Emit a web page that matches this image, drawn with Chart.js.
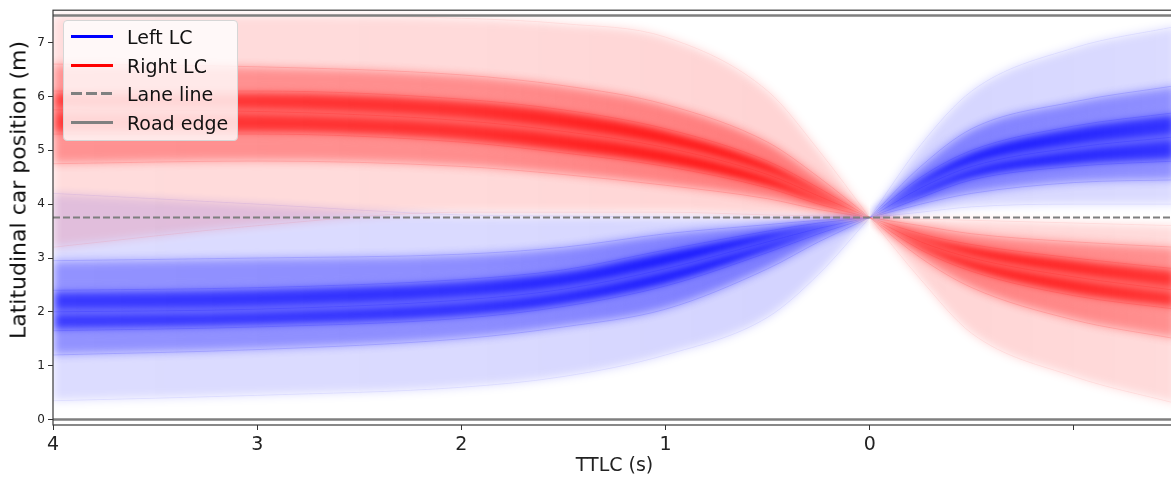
<!DOCTYPE html>
<html>
<head>
<meta charset="utf-8">
<script src="https://cdn.jsdelivr.net/npm/chart.js@4"></script>
<style>
    html, body { margin: 0; padding: 0; background: #fff; overflow: hidden; width: 1171px; height: 480px; }
    #wrap { position: relative; width: 1180px; height: 480px; }
    #ylabel {
        position: absolute; left: 18px; top: 190px;
        transform: translate(-50%, -50%) rotate(-90deg);
        white-space: nowrap; font: 22px 'DejaVu Sans', sans-serif; color: #111;
    }
    .legend {
        position: absolute; left: 63px; top: 20px; width: 173px; height: 119px;
        border: 1px solid #d6d6d6; border-radius: 4px; background: rgba(255,255,255,0.8);
        font: 19px 'DejaVu Sans', sans-serif; color: #111;
    }
    .legend .row { position: absolute; left: 0; height: 24px; line-height: 24px; }
    .legend .swatch { position: absolute; left: 7px; top: 10px; width: 42px; height: 3px; }
    .legend .label { position: absolute; left: 63px; top: 0; white-space: nowrap; }
</style>
</head>
<body>
<div id="wrap">
    <canvas id="chart"></canvas>
    <div id="ylabel">Latitudinal car position (m)</div>
    <div class="legend">
        <div class="row" style="top:4px"><div class="swatch" style="background:#0000ff"></div><span class="label">Left LC</span></div>
        <div class="row" style="top:33px"><div class="swatch" style="background:#ff0000"></div><span class="label">Right LC</span></div>
        <div class="row" style="top:61px"><div class="swatch" style="background:repeating-linear-gradient(to right,#808080 0 11px,transparent 11px 15px)"></div><span class="label">Lane line</span></div>
        <div class="row" style="top:90px"><div class="swatch" style="background:#808080"></div><span class="label">Road edge</span></div>
    </div>
</div>
<script>
// time to lane change (s); index 7 is the crossing point
const TTLC = [4, 3, 2, 1.5, 1, 0.5, 0.25, 0, -0.25, -0.5, -1, -1.5];

const LEFT_P02 = [0.35, 0.45, 0.6, 0.8, 1.2, 1.9, 2.7, 3.75, 3.85, 3.95, 4.0, 4.0];
const LEFT_P10 = [1.2, 1.3, 1.5, 1.72, 2.05, 2.8, 3.3, 3.75, 4.0, 4.2, 4.4, 4.45];
const LEFT_P25 = [1.65, 1.72, 1.88, 2.1, 2.48, 3.1, 3.45, 3.75, 4.12, 4.45, 4.7, 4.8];
const LEFT_P50 = [2.0, 2.05, 2.22, 2.42, 2.8, 3.3, 3.55, 3.75, 4.3, 4.7, 5.05, 5.25];
const LEFT_P75 = [2.4, 2.45, 2.6, 2.78, 3.15, 3.5, 3.65, 3.75, 4.5, 5.0, 5.45, 5.7];
const LEFT_P90 = [2.95, 3.0, 3.07, 3.2, 3.45, 3.62, 3.7, 3.75, 4.7, 5.4, 5.9, 6.2];
const LEFT_P98 = [4.2, 4.0, 3.8, 3.78, 3.76, 3.75, 3.75, 3.75, 5.1, 6.1, 6.9, 7.3];

// Right LC trajectories
const RIGHT_P02 = [3.2, 3.6, 3.85, 3.85, 3.85, 3.8, 3.78, 3.75, 2.6, 1.6, 0.8, 0.3];
const RIGHT_P10 = [4.75, 4.8, 4.7, 4.55, 4.35, 4.1, 3.9, 3.75, 3.0, 2.45, 1.85, 1.5];
const RIGHT_P25 = [5.3, 5.3, 5.15, 4.95, 4.7, 4.3, 4.0, 3.75, 3.15, 2.75, 2.3, 2.05];
const RIGHT_P50 = [5.75, 5.72, 5.55, 5.35, 5.05, 4.55, 4.15, 3.75, 3.3, 3.0, 2.65, 2.4];
const RIGHT_P75 = [6.1, 6.1, 5.95, 5.75, 5.4, 4.8, 4.3, 3.75, 3.45, 3.25, 3.0, 2.8];
const RIGHT_P90 = [6.6, 6.55, 6.4, 6.2, 5.85, 5.15, 4.5, 3.75, 3.6, 3.45, 3.3, 3.2];
const RIGHT_P98 = [7.5, 7.5, 7.45, 7.35, 7.1, 6.1, 5.0, 3.75, 3.72, 3.7, 3.65, 3.6];

const LANE_Y = 3.75;
const ROAD_EDGES = [0, 7.5];
const X_RANGE = [4, -1.5];

const X_TICKS = [4, 3, 2, 1, 0, -1];
const X_TICK_LABELS = ['4', '3', '2', '1', '0', ''];
const Y_TICKS = [0, 1, 2, 3, 4, 5, 6, 7];

// opacity of each band between consecutive envelopes, and fade along time
const BAND_ALPHA = [0.17, 0.52, 0.95, 0.95, 0.52, 0.17];
const EDGE_ALPHA = [0.1, 0.2, 0.2, 0.2, 0.2, 0.2, 0.1];
const FADE_T = [4, 2, 1, 0.5, 0, -0.5, -1.5];
const FADE_K = [0.82, 0.86, 0.95, 1, 1, 0.95, 0.84];
const BLUR = 'blur(5px)';

const font = { family: 'DejaVu Sans' };

function bandColor(rgb, alpha) {
    return (ctx) => {
        const chart = ctx.chart;
        const xs = chart.scales.x;
        if (!chart.chartArea || !xs) return `rgba(${rgb},${alpha})`;
        const x0 = xs.getPixelForValue(X_RANGE[0]);
        const x1 = xs.getPixelForValue(X_RANGE[1]);
        const g = chart.ctx.createLinearGradient(x0, 0, x1, 0);
        FADE_T.forEach((t, i) => {
            const pos = (xs.getPixelForValue(t) - x0) / (x1 - x0);
            g.addColorStop(Math.min(1, Math.max(0, pos)), `rgba(${rgb},${(alpha * FADE_K[i]).toFixed(3)})`);
        });
        return g;
    };
}

function bandSets(envelopes, rgb) {
    const sets = [];
    // before and after the crossing, so the fan pinches at 0
    [[0, 8], [7, 12]].forEach(([a, b]) => {
        envelopes.forEach((env, i) => {
            sets.push({
                data: TTLC.slice(a, b).map((t, j) => ({ x: t, y: env[a + j] })),
                fill: i === 0 ? false : '-1',
                backgroundColor: i === 0 ? 'transparent' : bandColor(rgb, BAND_ALPHA[i - 1]),
                borderColor: `rgba(${rgb},${EDGE_ALPHA[i]})`,
                borderWidth: 0.7,
                pointRadius: 0,
                cubicInterpolationMode: 'monotone'
            });
        });
    });
    return sets;
}

function flatLine(y, dash, width) {
    return {
        order: -1,
        data: X_RANGE.map(x => ({ x, y })),
        borderColor: '#7f7f7f',
        borderWidth: width,
        borderDash: dash,
        pointRadius: 0,
        fill: false
    };
}

// soft edges for the density fills, crisp strokes for lines
const softFill = {
    id: 'softFill',
    beforeDatasetsDraw(chart) { chart.ctx.filter = BLUR; },
    beforeDatasetDraw(chart) { chart.ctx.filter = 'none'; },
    afterDatasetDraw(chart) { chart.ctx.filter = BLUR; },
    afterDatasetsDraw(chart) { chart.ctx.filter = 'none'; }
};

const frame = {
    id: 'frame',
    afterDraw(chart) {
        const { ctx, chartArea: a } = chart;
        ctx.save();
        ctx.strokeStyle = '#3a3a3a';
        ctx.lineWidth = 1.2;
        ctx.strokeRect(a.left, a.top, a.right - a.left, a.bottom - a.top);
        ctx.restore();
    }
};

const datasets = [
    ...bandSets([RIGHT_P02, RIGHT_P10, RIGHT_P25, RIGHT_P50, RIGHT_P75, RIGHT_P90, RIGHT_P98], '255,0,0'),
    ...bandSets([LEFT_P02, LEFT_P10, LEFT_P25, LEFT_P50, LEFT_P75, LEFT_P90, LEFT_P98], '0,0,255'),
    ...ROAD_EDGES.map(y => flatLine(y, [], 2.5)),
    flatLine(LANE_Y, [7, 3], 2)
];

new Chart(document.getElementById('chart'), {
    type: 'line',
    data: { datasets },
    plugins: [softFill, frame],
    options: {
        animation: false,
        responsive: true,
        maintainAspectRatio: false,
        layout: { padding: { top: 10, right: 4, bottom: 0, left: 0 } },
        plugins: { legend: { display: false }, tooltip: { enabled: false } },
        scales: {
            x: {
                type: 'linear',
                reverse: true,
                min: X_RANGE[1],
                max: X_RANGE[0],
                afterBuildTicks: s => { s.ticks = X_TICKS.map(v => ({ value: v })); },
                afterFit: s => { s.height = 55; },
                grid: { drawOnChartArea: false, tickLength: 5, color: '#333' },
                border: { display: false },
                ticks: {
                    font: { ...font, size: 19 }, color: '#222', padding: 4,
                    maxRotation: 0, autoSkip: false,
                    callback: (v, i) => X_TICK_LABELS[i]
                },
                title: {
                    display: true, text: 'TTLC (s)', color: '#222',
                    font: { ...font, size: 19 }, padding: { top: 0, bottom: 3 }
                }
            },
            y: {
                min: -0.1,
                max: 7.6,
                afterBuildTicks: s => { s.ticks = Y_TICKS.map(v => ({ value: v })); },
                afterFit: s => { s.width = 53; },
                grid: { drawOnChartArea: false, tickLength: 5, color: '#333' },
                border: { display: false },
                ticks: { font: { ...font, size: 12 }, color: '#222', padding: 3 }
            }
        }
    }
});
</script>
</body>
</html>
